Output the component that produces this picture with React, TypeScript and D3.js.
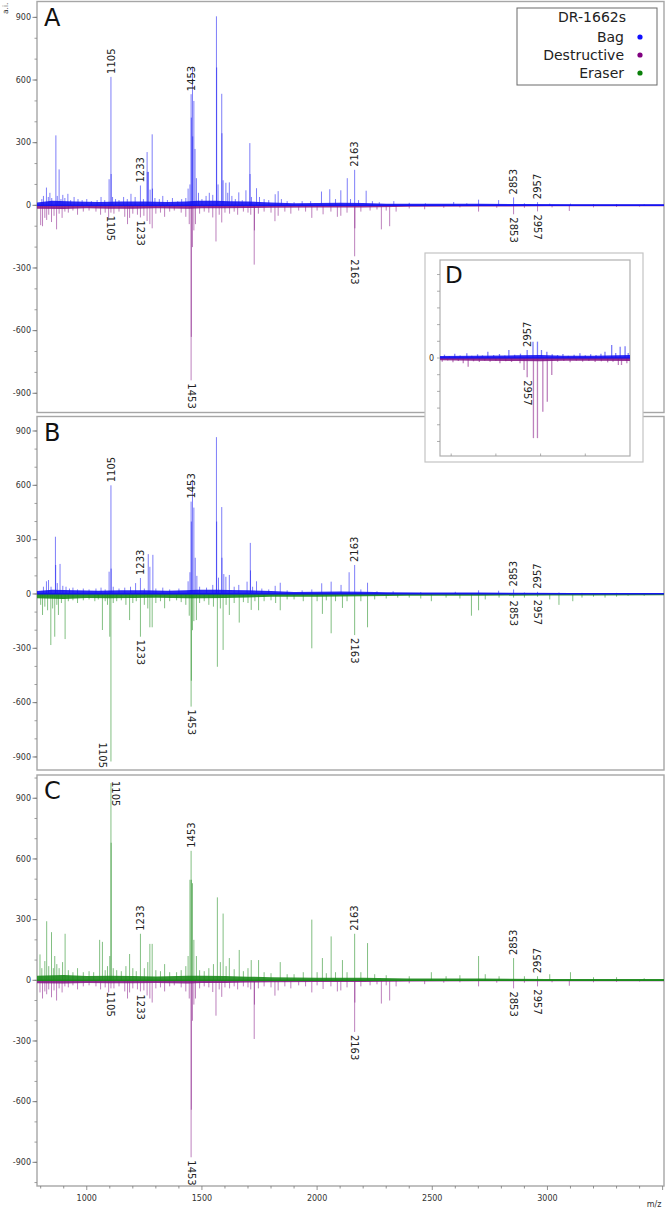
import React from "react";
import * as d3 from "d3";

type Peak = [number, number];

// ---------------- data ----------------
const legendTitle = "DR-1662s";
const legendNames = ["Bag", "Destructive", "Eraser"];
const panelLetters = ["A", "B", "C"];
const labeledMz = [1105, 1233, 1453, 2163, 2853, 2957];
const xTickValues = [1000, 1500, 2000, 2500, 3000];
const yTickValues = [-900, -600, -300, 0, 300, 600, 900];
const insetLabeledMz = [2957];
const insetXTicks = [2940, 2950, 2960, 2970];
const insetYTicks = [-500, -400, -300, -200, -100, 0, 100, 200, 300, 400, 500];

// Panel A – Bag (up)
const bagA: Peak[] = [
  [805, 30], [812, 45], [825, 85], [833, 40], [840, 60], [848, 35], [866, 335], [872, 45], [880, 172], [888, 30],
  [896, 50], [905, 35], [918, 55], [930, 25], [945, 40], [962, 30], [980, 25], [1000, 30], [1020, 20], [1045, 25],
  [1062, 40], [1078, 25], [1097, 125], [1105, 615], [1106, 150], [1112, 40], [1125, 30], [1140, 25], [1160, 40],
  [1176, 30], [1192, 55], [1210, 40], [1233, 95], [1246, 30], [1262, 255], [1263, 160], [1268, 160], [1275, 75],
  [1284, 340], [1285, 80], [1296, 35], [1315, 30], [1330, 45], [1350, 25], [1372, 35], [1395, 20], [1412, 30],
  [1430, 35], [1440, 80], [1448, 100], [1453, 532], [1454, 420], [1459, 663], [1460, 330], [1465, 500], [1470, 270],
  [1476, 130], [1485, 60], [1500, 30], [1518, 45], [1532, 60], [1547, 50], [1563, 905], [1564, 660], [1570, 100],
  [1586, 534], [1587, 345], [1592, 120], [1604, 108], [1612, 60], [1619, 110], [1630, 45], [1645, 30], [1660, 62],
  [1675, 25], [1691, 72], [1708, 298], [1709, 150], [1715, 40], [1737, 82], [1750, 40], [1770, 30], [1790, 25],
  [1818, 53], [1831, 68], [1845, 30], [1870, 20], [1900, 15], [1935, 20], [1972, 20], [2019, 66], [2055, 77],
  [2080, 30], [2103, 72], [2131, 130], [2145, 30], [2163, 170], [2180, 25], [2213, 70], [2240, 20], [2270, 15],
  [2333, 20], [2400, 12], [2470, 10], [2593, 16], [2650, 10], [2701, 27], [2788, 25], [2853, 38], [2900, 10],
  [2957, 15], [3010, 8], [3100, 8], [3200, 6], [3300, 6], [3420, 5],
];

// Panel A – Destructive (down)
const destA: Peak[] = [
  [800, -95], [808, -100], [818, -60], [826, -70], [835, -45], [847, -80], [858, -50], [869, -115], [880, -40],
  [893, -60], [905, -30], [920, -35], [940, -25], [960, -45], [985, -30], [1010, -25], [1040, -30], [1060, -45],
  [1080, -35], [1095, -60], [1105, -35], [1118, -40], [1140, -30], [1165, -55], [1177, -90], [1186, -60], [1200, -40],
  [1220, -45], [1233, -58], [1248, -50], [1262, -75], [1274, -90], [1284, -110], [1300, -40], [1320, -35], [1338, -55],
  [1360, -30], [1380, -25], [1410, -35], [1430, -55], [1445, -90], [1453, -838], [1454, -630], [1459, -200],
  [1465, -120], [1472, -90], [1490, -40], [1510, -30], [1530, -35], [1547, -58], [1561, -173], [1575, -45],
  [1586, -82], [1600, -35], [1620, -40], [1640, -30], [1655, -45], [1680, -30], [1700, -35], [1712, -45],
  [1727, -284], [1728, -120], [1745, -40], [1770, -30], [1800, -35], [1817, -76], [1831, -50], [1860, -30], [1886, -40],
  [1920, -25], [1950, -30], [1977, -60], [2000, -25], [2026, -43], [2060, -30], [2088, -55], [2103, -50], [2130, -35],
  [2163, -244], [2164, -110], [2190, -30], [2230, -25], [2260, -20], [2279, -115], [2300, -25], [2315, -100],
  [2343, -30], [2400, -15], [2467, -19], [2550, -12], [2620, -10], [2701, -30], [2780, -12], [2853, -43], [2900, -12],
  [2957, -29], [3020, -10], [3095, -27], [3200, -10], [3300, -8], [3400, -6],
];

// Panel B – Bag (up)
const bagB: Peak[] = [
  [812, 40], [825, 70], [834, 77], [845, 40], [864, 316], [865, 160], [872, 60], [884, 166], [896, 45], [910, 40],
  [925, 30], [940, 35], [960, 25], [985, 30], [1010, 25], [1040, 30], [1062, 35], [1080, 25], [1097, 123],
  [1105, 600], [1106, 140], [1115, 40], [1140, 30], [1165, 35], [1190, 40], [1212, 60], [1233, 88], [1250, 30],
  [1267, 220], [1274, 150], [1287, 216], [1300, 30], [1330, 35], [1360, 25], [1400, 30], [1440, 70], [1448, 120],
  [1453, 510], [1454, 400], [1459, 630], [1465, 477], [1471, 200], [1478, 100], [1490, 40], [1520, 35], [1547, 50],
  [1563, 866], [1564, 400], [1572, 90], [1586, 480], [1587, 200], [1595, 110], [1604, 95], [1619, 105], [1640, 40],
  [1660, 50], [1696, 68], [1710, 282], [1711, 130], [1720, 40], [1737, 70], [1760, 30], [1790, 25], [1818, 45],
  [1840, 62], [1870, 20], [1935, 20], [1977, 25], [2020, 59], [2061, 68], [2104, 50], [2139, 120], [2163, 160],
  [2190, 25], [2219, 62], [2260, 15], [2330, 15], [2450, 10], [2600, 12], [2701, 20], [2788, 18], [2853, 25],
  [2900, 8], [2957, 12], [3050, 8], [3150, 6], [3300, 6], [3450, 5],
];

// Panel B – Eraser (down)
const eraserB: Peak[] = [
  [800, -60], [808, -116], [818, -70], [830, -90], [844, -282], [852, -80], [861, -236], [870, -60], [877, -116],
  [890, -50], [906, -249], [920, -40], [940, -35], [960, -50], [985, -35], [1010, -30], [1035, -40], [1050, -30],
  [1068, -199], [1080, -40], [1090, -60], [1100, -236], [1105, -925], [1115, -50], [1130, -40], [1150, -35],
  [1170, -60], [1186, -144], [1200, -50], [1215, -40], [1233, -236], [1250, -60], [1265, -80], [1274, -184],
  [1284, -184], [1300, -50], [1320, -40], [1338, -79], [1360, -40], [1390, -35], [1410, -45], [1430, -60],
  [1445, -120], [1453, -622], [1454, -479], [1459, -200], [1465, -150], [1476, -144], [1490, -50], [1510, -40],
  [1530, -60], [1550, -70], [1567, -402], [1580, -80], [1592, -309], [1605, -60], [1619, -116], [1640, -50],
  [1662, -158], [1680, -45], [1700, -50], [1714, -88], [1730, -40], [1746, -90], [1770, -40], [1800, -35],
  [1820, -50], [1840, -90], [1870, -30], [1900, -30], [1940, -40], [1977, -300], [2000, -40], [2023, -110],
  [2040, -35], [2061, -217], [2080, -40], [2110, -77], [2130, -40], [2163, -227], [2190, -40], [2219, -184],
  [2250, -30], [2300, -25], [2350, -20], [2400, -20], [2450, -25], [2496, -40], [2560, -20], [2620, -25],
  [2670, -120], [2701, -90], [2730, -30], [2790, -20], [2853, -20], [2900, -20], [2957, -15], [3010, -30],
  [3050, -60], [3110, -40], [3150, -20], [3200, -15], [3250, -20], [3300, -15], [3350, -10], [3420, -10],
];

// Panel C – Eraser (up)
const eraserC: Peak[] = [
  [797, 128], [805, 60], [818, 95], [826, 292], [835, 70], [847, 238], [855, 60], [861, 120], [870, 80], [880, 60],
  [895, 90], [906, 230], [920, 50], [940, 40], [960, 60], [985, 40], [1010, 45], [1030, 40], [1056, 200],
  [1068, 190], [1080, 50], [1090, 70], [1100, 120], [1105, 975], [1106, 680], [1115, 60], [1130, 50], [1150, 45],
  [1170, 70], [1186, 130], [1200, 60], [1215, 45], [1233, 230], [1250, 60], [1265, 90], [1274, 180], [1284, 180],
  [1300, 50], [1320, 45], [1338, 80], [1360, 40], [1390, 40], [1410, 50], [1430, 70], [1440, 120], [1448, 497],
  [1453, 640], [1454, 497], [1459, 480], [1465, 200], [1476, 120], [1490, 50], [1510, 45], [1530, 60], [1550, 80],
  [1567, 410], [1580, 90], [1592, 330], [1605, 70], [1619, 110], [1640, 55], [1662, 150], [1680, 45], [1700, 60],
  [1714, 100], [1746, 100], [1770, 40], [1800, 35], [1840, 90], [1870, 30], [1900, 30], [1940, 40], [1977, 300],
  [2000, 40], [2023, 110], [2040, 35], [2061, 217], [2080, 40], [2110, 100], [2130, 40], [2163, 230], [2190, 40],
  [2219, 184], [2250, 30], [2300, 25], [2400, 20], [2496, 40], [2560, 20], [2620, 25], [2701, 120], [2730, 30],
  [2790, 20], [2853, 110], [2900, 20], [2957, 20], [3010, 30], [3100, 40], [3200, 15], [3300, 15], [3420, 10],
];

// Panel C – Destructive (down)
const destC: Peak[] = [
  [797, -60], [808, -90], [818, -55], [826, -69], [835, -45], [847, -84], [858, -50], [869, -100], [880, -40],
  [893, -60], [905, -30], [920, -35], [940, -25], [960, -45], [985, -30], [1010, -25], [1040, -30], [1060, -45],
  [1080, -35], [1095, -60], [1105, -40], [1118, -40], [1140, -30], [1165, -55], [1177, -90], [1186, -60],
  [1200, -40], [1220, -45], [1233, -55], [1248, -50], [1262, -75], [1274, -90], [1284, -110], [1300, -40],
  [1320, -35], [1338, -55], [1360, -30], [1380, -25], [1410, -35], [1430, -55], [1445, -90], [1453, -875],
  [1454, -640], [1459, -200], [1465, -120], [1472, -90], [1490, -40], [1510, -30], [1530, -35], [1547, -58],
  [1561, -175], [1575, -45], [1586, -82], [1600, -35], [1620, -40], [1640, -30], [1655, -45], [1680, -30],
  [1700, -35], [1712, -45], [1727, -290], [1728, -120], [1745, -40], [1770, -30], [1800, -35], [1817, -76],
  [1831, -50], [1860, -30], [1886, -40], [1920, -25], [1950, -30], [1977, -60], [2000, -25], [2026, -43],
  [2060, -30], [2088, -55], [2103, -50], [2130, -35], [2163, -255], [2164, -110], [2190, -30], [2230, -25],
  [2260, -20], [2279, -115], [2300, -25], [2315, -100], [2343, -30], [2400, -15], [2467, -19], [2550, -12],
  [2620, -10], [2701, -30], [2780, -12], [2853, -40], [2900, -12], [2957, -30], [3020, -10], [3095, -27],
  [3200, -10], [3300, -8], [3400, -6],
];

// baseline noise envelopes (read as band thickness)
const bagNoiseA: Peak[] = [
  [784, 14], [850, 22], [950, 18], [1050, 16], [1150, 18], [1250, 18], [1350, 16], [1430, 18], [1480, 22],
  [1560, 22], [1620, 20], [1700, 18], [1800, 14], [1900, 10], [2000, 11], [2100, 12], [2200, 11],
  [2300, 8], [2450, 7], [2700, 7], [2900, 6], [3100, 5], [3300, 5], [3506, 5],
];
const destNoiseA: Peak[] = [
  [784, -16], [900, -18], [1000, -14], [1100, -16], [1200, -16], [1300, -14], [1440, -16],
  [1500, -14], [1600, -14], [1700, -13], [1800, -11], [2000, -10], [2200, -10], [2400, -7], [2700, -6],
  [3000, -5], [3506, -5],
];
const bagNoiseB: Peak[] = [
  [784, 16], [850, 24], [950, 20], [1050, 18], [1150, 20], [1250, 20], [1350, 18], [1430, 20], [1480, 24],
  [1560, 24], [1620, 22], [1700, 20], [1800, 16], [1900, 11], [2000, 12], [2100, 13], [2200, 12],
  [2300, 9], [2450, 8], [2700, 8], [2900, 7], [3100, 6], [3300, 6], [3506, 6],
];
const eraserNoiseB: Peak[] = [
  [784, -24], [900, -28], [1000, -22], [1100, -24], [1200, -22], [1300, -21], [1440, -24],
  [1500, -24], [1600, -22], [1700, -19], [1800, -16], [2000, -15], [2200, -13], [2400, -10], [2700, -10],
  [3000, -8], [3200, -8], [3506, -7],
];
const eraserNoiseC: Peak[] = [
  [784, 22], [900, 26], [1000, 21], [1100, 22], [1200, 21], [1300, 19], [1440, 22], [1500, 22],
  [1600, 21], [1700, 18], [1800, 15], [2000, 13], [2200, 12], [2400, 9], [2700, 9], [3000, 7], [3200, 7],
  [3506, 6],
];
const destNoiseC: Peak[] = [
  [784, -15], [900, -16], [1000, -13], [1100, -15], [1200, -15], [1300, -13], [1440, -16],
  [1500, -13], [1600, -13], [1700, -11], [1800, -10], [2000, -9], [2200, -9], [2400, -6], [2700, -5],
  [3000, -5], [3506, -5],
];

// Inset D (zoom around m/z 2957)
const insetBag: Peak[] = [
  [2938.5, 20], [2939.6, 12], [2940.8, 25], [2942.0, 15], [2943.5, 28], [2944.6, 14], [2945.9, 22], [2947.0, 16],
  [2948.2, 38], [2949.5, 18], [2950.8, 24], [2952.0, 15], [2952.9, 48], [2954.2, 20], [2955.5, 26], [2957, 48],
  [2958.3, 98], [2959.3, 98], [2960.2, 48], [2961.4, 38], [2962.6, 22], [2963.8, 18], [2965.0, 24], [2966.2, 14],
  [2967.5, 20], [2968.8, 28], [2970.0, 16], [2971.2, 22], [2972.4, 18], [2973.5, 26], [2974.4, 38], [2975.9, 78],
  [2976.8, 30], [2977.8, 68], [2978.9, 70], [2979.6, 30],
];
const insetDest: Peak[] = [
  [2938.0, -22], [2939.2, -15], [2940.4, -25], [2941.6, -18], [2942.7, -32], [2943.8, -52], [2945.0, -20],
  [2946.3, -24], [2947.5, -16], [2948.7, -22], [2950.0, -18], [2950.9, -32], [2952.2, -20], [2953.5, -24],
  [2955.4, -32], [2956.3, -72], [2957, -115], [2958.4, -480], [2959.3, -480], [2960.5, -322], [2961.5, -262],
  [2962.5, -102], [2963.8, -22], [2965.2, -18], [2966.6, -25], [2968.0, -16], [2969.4, -22], [2970.8, -18],
  [2972.2, -24], [2973.6, -20], [2975.0, -26], [2976.2, -22], [2977.4, -42], [2978.1, -42], [2979.3, -32],
];
const insetBagNoise: Peak[] = [
  [2937.5, 12], [2945, 14], [2955, 16], [2960, 18], [2965, 14], [2972, 14], [2980, 18],
];
const insetDestNoise: Peak[] = [
  [2937.5, -14], [2945, -16], [2955, -18], [2960, -20], [2965, -16], [2972, -16], [2980, -18],
];

// ---------------- styles / layout ----------------
const W = 666;
const H = 1210;
const BLUE = "#1414f2";
const PURPLE = "#861a86";
const GREEN = "#1b8a1b";
const FONT = "'DejaVu Sans', Verdana, sans-serif";
const FRAME_L = 37;
const FRAME_R = 664;
const xDomain: [number, number] = [784, 3506];

const x = d3.scaleLinear().domain(xDomain).range([FRAME_L, FRAME_R]);

interface PanelCfg {
  letter: string;
  top: number;
  bottom: number;
  yDomain: [number, number];
  up: Peak[];
  down: Peak[];
  upNoise: Peak[];
  downNoise: Peak[];
  upColor: string;
  downColor: string;
}

const panels: PanelCfg[] = [
  { letter: panelLetters[0], top: 1.5, bottom: 412.5, yDomain: [-992, 976], up: bagA, down: destA, upNoise: bagNoiseA, downNoise: destNoiseA, upColor: BLUE, downColor: PURPLE },
  { letter: panelLetters[1], top: 416.5, bottom: 770, yDomain: [-972, 980], up: bagB, down: eraserB, upNoise: bagNoiseB, downNoise: eraserNoiseB, upColor: BLUE, downColor: GREEN },
  { letter: panelLetters[2], top: 775, bottom: 1186, yDomain: [-1017, 1015], up: eraserC, down: destC, upNoise: eraserNoiseC, downNoise: destNoiseC, upColor: GREEN, downColor: PURPLE },
];

type Scale = d3.ScaleLinear<number, number>;

function Stems({ peaks, xs, ys, color, w }: { peaks: Peak[]; xs: Scale; ys: Scale; color: string; w: number }) {
  const y0 = ys(0);
  return (
    <g stroke={color} strokeWidth={w} strokeOpacity={0.55}>
      {peaks.map(([m, v], i) => {
        const px = xs(m);
        return <line key={i} x1={px} x2={px} y1={y0} y2={ys(v)} />;
      })}
    </g>
  );
}

function Band({ env, xs, ys, color }: { env: Peak[]; xs: Scale; ys: Scale; color: string }) {
  const area = d3
    .area<Peak>()
    .x((d) => xs(d[0]))
    .y0(ys(0))
    .y1((d) => ys(d[1]))
    .curve(d3.curveLinear);
  return (
    <g>
      <path d={area(env) || ""} fill={color} fillOpacity={0.9} />
      <line x1={xs(env[0][0])} x2={xs(env[env.length - 1][0])} y1={ys(0)} y2={ys(0)} stroke={color} strokeWidth={1.2} />
    </g>
  );
}

function PeakLabel({ mz, val, xs, ys, top, bottom, size }: { mz: number; val: number; xs: Scale; ys: Scale; top: number; bottom: number; size: number }) {
  const px = xs(mz);
  const py = ys(val);
  const len = size * 2.6;
  const common = { fontFamily: FONT, fontSize: size, fill: "#222" } as const;
  if (val > 0) {
    if (py - 3 - len < top - 4) {
      return (
        <text {...common} transform={`translate(${px + 1.5},${top + 6}) rotate(90)`}>
          {mz}
        </text>
      );
    }
    return (
      <text {...common} transform={`translate(${px + size * 0.36},${py - 3}) rotate(-90)`}>
        {mz}
      </text>
    );
  }
  if (py + 3 + len > bottom + 12) {
    return (
      <text {...common} textAnchor="end" transform={`translate(${px - 12},${bottom - 2}) rotate(90)`}>
        {mz}
      </text>
    );
  }
  return (
    <text {...common} transform={`translate(${px - size * 0.36},${py + 3}) rotate(90)`}>
      {mz}
    </text>
  );
}

function Panel({ cfg, idx }: { cfg: PanelCfg; idx: number }) {
  const ys = d3.scaleLinear().domain(cfg.yDomain).range([cfg.bottom, cfg.top]);
  const minor = d3.range(-1000, 1001, 100).filter((v) => ys(v) >= cfg.top && ys(v) <= cfg.bottom);
  const clipId = `clip${idx}`;
  const findVal = (arr: Peak[], m: number) => {
    const p = arr.find((d) => d[0] === m);
    return p ? p[1] : 0;
  };
  return (
    <g>
      <defs>
        <clipPath id={clipId}>
          <rect x={FRAME_L} y={cfg.top} width={FRAME_R - FRAME_L} height={cfg.bottom - cfg.top} />
        </clipPath>
      </defs>
      <rect x={FRAME_L} y={cfg.top} width={FRAME_R - FRAME_L} height={cfg.bottom - cfg.top} fill="#fff" stroke="#a6a6a6" strokeWidth={1.4} />
      <g clipPath={`url(#${clipId})`}>
        <Band env={cfg.downNoise} xs={x} ys={ys} color={cfg.downColor} />
        <Stems peaks={cfg.down} xs={x} ys={ys} color={cfg.downColor} w={1} />
        <Band env={cfg.upNoise} xs={x} ys={ys} color={cfg.upColor} />
        <Stems peaks={cfg.up} xs={x} ys={ys} color={cfg.upColor} w={1} />
      </g>
      {minor.map((v) => (
        <line key={`m${v}`} x1={FRAME_L - 2.5} x2={FRAME_L} y1={ys(v)} y2={ys(v)} stroke="#888" strokeWidth={0.8} />
      ))}
      {yTickValues.map((v) => (
        <g key={`t${v}`}>
          <line x1={FRAME_L - 4.5} x2={FRAME_L} y1={ys(v)} y2={ys(v)} stroke="#777" strokeWidth={0.9} />
          <text x={FRAME_L - 6} y={ys(v)} dy="0.35em" textAnchor="end" fontFamily={FONT} fontSize={8} fill="#333">
            {v}
          </text>
        </g>
      ))}
      <text x={44} y={cfg.top + 24} fontFamily={FONT} fontSize={24} fill="#111">
        {cfg.letter}
      </text>
      {labeledMz.map((m) => (
        <PeakLabel key={`u${m}`} mz={m} val={findVal(cfg.up, m)} xs={x} ys={ys} top={cfg.top} bottom={cfg.bottom} size={10} />
      ))}
      {labeledMz.map((m) => (
        <PeakLabel key={`d${m}`} mz={m} val={findVal(cfg.down, m)} xs={x} ys={ys} top={cfg.top} bottom={cfg.bottom} size={10} />
      ))}
    </g>
  );
}

function Legend() {
  const colors = ["#0f0fff", "#800080", "#0a800a"];
  const bx = 517, by = 8, bw = 140, bh = 77;
  return (
    <g>
      <rect x={bx} y={by} width={bw} height={bh} fill="#fff" stroke="#6a6a6a" strokeWidth={1} />
      <text x={626} y={22} textAnchor="end" fontFamily={FONT} fontSize={14} fill="#222">
        {legendTitle}
      </text>
      {legendNames.map((n, i) => (
        <g key={n}>
          <text x={624} y={42 + i * 18} textAnchor="end" fontFamily={FONT} fontSize={14} fill="#222">
            {n}
          </text>
          <circle cx={640} cy={37 + i * 18} r={2.6} fill={colors[i]} />
        </g>
      ))}
    </g>
  );
}

function Inset() {
  const ox = 425, oy = 253, ow = 218, oh = 209;
  const l = 440, r = 630, t = 260, b = 456;
  const xs = d3.scaleLinear().domain([2937.5, 2980]).range([l, r]);
  const ys = d3.scaleLinear().domain([-587, 587]).range([b, t]);
  const findVal = (arr: Peak[], m: number) => {
    const p = arr.find((d) => d[0] === m);
    return p ? p[1] : 0;
  };
  return (
    <g>
      <defs>
        <clipPath id="clipD">
          <rect x={l} y={t} width={r - l} height={b - t} />
        </clipPath>
      </defs>
      <rect x={ox} y={oy} width={ow} height={oh} fill="#fff" stroke="#c4c4c4" strokeWidth={1.2} />
      <rect x={l} y={t} width={r - l} height={b - t} fill="#fff" stroke="#b0b0b0" strokeWidth={1.2} />
      <g clipPath="url(#clipD)">
        <Band env={insetDestNoise} xs={xs} ys={ys} color={PURPLE} />
        <Stems peaks={insetDest} xs={xs} ys={ys} color={PURPLE} w={1.3} />
        <Band env={insetBagNoise} xs={xs} ys={ys} color={BLUE} />
        <Stems peaks={insetBag} xs={xs} ys={ys} color={BLUE} w={1.3} />
      </g>
      {insetYTicks.map((v) => (
        <line key={v} x1={l - 3} x2={l} y1={ys(v)} y2={ys(v)} stroke="#999" strokeWidth={0.8} />
      ))}
      <text x={l - 6} y={ys(0)} dy="0.35em" textAnchor="end" fontFamily={FONT} fontSize={8} fill="#333">
        0
      </text>
      {insetXTicks.map((v) => (
        <line key={v} x1={xs(v)} x2={xs(v)} y1={b} y2={b - 2.5} stroke="#999" strokeWidth={0.8} />
      ))}
      <text x={445} y={283} fontFamily={FONT} fontSize={23} fill="#111">
        D
      </text>
      {insetLabeledMz.map((m) => (
        <PeakLabel key={`iu${m}`} mz={m} val={findVal(insetBag, m)} xs={xs} ys={ys} top={t} bottom={b} size={10} />
      ))}
      {insetLabeledMz.map((m) => (
        <PeakLabel key={`id${m}`} mz={m} val={findVal(insetDest, m)} xs={xs} ys={ys} top={t} bottom={b} size={10} />
      ))}
    </g>
  );
}

function XAxis() {
  const yb = panels[2].bottom;
  const minor = d3.range(800, 3501, 100);
  return (
    <g>
      {minor.map((v) => (
        <line key={v} x1={x(v)} x2={x(v)} y1={yb} y2={yb + (v % 500 === 0 ? 4 : 2.5)} stroke="#777" strokeWidth={0.8} />
      ))}
      {xTickValues.map((v) => (
        <text key={v} x={x(v)} y={1201} textAnchor="middle" fontFamily={FONT} fontSize={8} fill="#333">
          {v}
        </text>
      ))}
      <text x={654} y={1207} textAnchor="middle" fontFamily={FONT} fontSize={8} fill="#333">
        m/z
      </text>
    </g>
  );
}

export default function App() {
  return (
    <svg
      width={W}
      height={H}
      viewBox={`0 0 ${W} ${H}`}
      style={{ position: "absolute", left: 0, top: 0, background: "#fff" }}
    >
      <rect x={0} y={0} width={W} height={H} fill="#fff" />
      {panels.map((p, i) => (
        <Panel key={p.letter} cfg={p} idx={i} />
      ))}
      <XAxis />
      <Legend />
      <Inset />
      <text transform="translate(8,14) rotate(-90)" fontFamily={FONT} fontSize={7.5} fill="#333">
        a.i.
      </text>
    </svg>
  );
}
